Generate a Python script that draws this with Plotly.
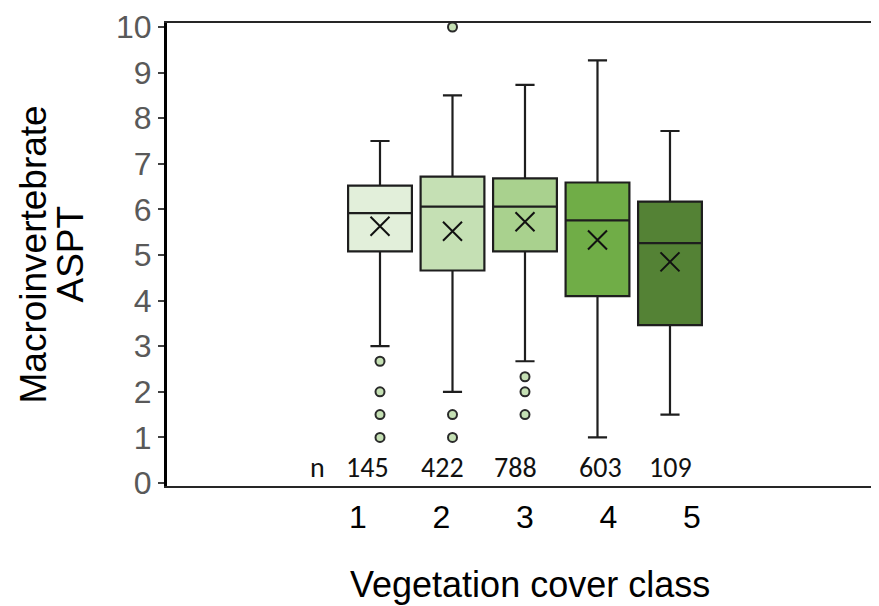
import plotly.graph_objects as go

classes = [1, 2, 3, 4, 5]
class_labels = ["1", "2", "3", "4", "5"]
n_labels = ["145", "422", "788", "603", "109"]

lower_whisker = [3.0, 2.0, 2.67, 1.0, 1.5]
q1 = [5.08, 4.66, 5.08, 4.1, 3.46]
median = [5.92, 6.06, 6.06, 5.76, 5.26]
q3 = [6.52, 6.72, 6.68, 6.59, 6.17]
upper_whisker = [7.5, 8.5, 8.73, 9.27, 7.72]
means = [5.63, 5.52, 5.73, 5.33, 4.85]

outliers = {
    1: [2.67, 2.0, 1.5, 1.0],
    2: [10.0, 1.5, 1.0],
    3: [2.33, 2.0, 1.5],
}

fills = ["#e2efda", "#c5e0b4", "#a9d18e", "#70ad47", "#548235"]
outline = "#1e1e1e"

fig = go.Figure()

for i, c in enumerate(classes):
    fig.add_trace(go.Box(
        x=[c], q1=[q1[i]], median=[median[i]], q3=[q3[i]],
        lowerfence=[lower_whisker[i]], upperfence=[upper_whisker[i]],
        width=0.88, whiskerwidth=0.3,
        fillcolor=fills[i], line=dict(color=outline, width=2.2),
        boxpoints=False, showlegend=False, hoverinfo="skip",
    ))

for c, vals in outliers.items():
    fig.add_trace(go.Scatter(
        x=[c] * len(vals), y=vals, mode="markers",
        marker=dict(symbol="circle", size=9, color="#c5e0b4",
                    line=dict(color="#2a2a2a", width=2)),
        showlegend=False, hoverinfo="skip",
    ))

fig.add_trace(go.Scatter(
    x=classes, y=means, mode="markers",
    marker=dict(symbol="x-thin-open", size=19, color="#111111",
                line=dict(color="#111111", width=2)),
    showlegend=False, hoverinfo="skip",
))

nfont = dict(family="Carlito, Lato, Open Sans", size=28, color="#111111")
fig.add_annotation(x=classes[0], y=0.33, xref="x", yref="y", text="n",
                   showarrow=False, xshift=-63, font=nfont)
n_shift = [-13, -10, -9, 3, 1]
for i, c in enumerate(classes):
    fig.add_annotation(x=c, y=0.33, xref="x", yref="y", text=n_labels[i],
                       showarrow=False, xshift=n_shift[i], font=nfont)

# axis titles
tfont = dict(family="Liberation Sans, Arial", size=37, color="#000000")
fig.add_annotation(x=0, y=0.5, xref="paper", yref="paper",
                   text="Macroinvertebrate", textangle=-90,
                   showarrow=False, xanchor="center", yanchor="middle", xshift=-134,
                   font=tfont)
fig.add_annotation(x=0, y=0.5, xref="paper", yref="paper",
                   text="ASPT", textangle=-90,
                   showarrow=False, xanchor="center", yanchor="middle", xshift=-97,
                   font=tfont)
fig.add_annotation(x=(530 - 167) / 712, y=0, xref="paper", yref="paper",
                   text="Vegetation cover class", showarrow=False,
                   xanchor="center", yanchor="middle", yshift=-98,
                   font=dict(family="Liberation Sans, Arial", size=36, color="#000000"))

# invisible trace to activate xaxis2
fig.add_trace(go.Scatter(x=classes, y=[None] * 5, xaxis="x2", yaxis="y",
                         showlegend=False, hoverinfo="skip"))

fig.update_layout(
    width=871, height=598,
    margin=dict(l=159, r=0, t=15, b=120),
    paper_bgcolor="white", plot_bgcolor="white",
    font=dict(family="Liberation Sans, Arial"),
    xaxis=dict(range=[-1.938, 7.883], showticklabels=False, ticks="",
               showgrid=False, zeroline=False,
               showline=True, linecolor="#262626", linewidth=2, mirror=True),
    xaxis2=dict(overlaying="x", anchor="y", side="bottom",
                range=[-1.287, 7.24], tickvals=classes, ticktext=class_labels,
                ticks="", showgrid=False, zeroline=False, showline=False,
                ticklabelstandoff=9,
                tickfont=dict(size=32, color="#000000", family="Liberation Sans, Arial")),
    yaxis=dict(range=[-0.066, 10.088], tickvals=list(range(0, 11)),
               ticks="outside", ticklen=6, tickwidth=2, tickcolor="#404040",
               showgrid=False, zeroline=False,
               showline=True, linecolor="#000000", linewidth=3,
               tickfont=dict(size=32, color="#595959", family="Liberation Sans, Arial")),
)

fig.write_html("out.html")
